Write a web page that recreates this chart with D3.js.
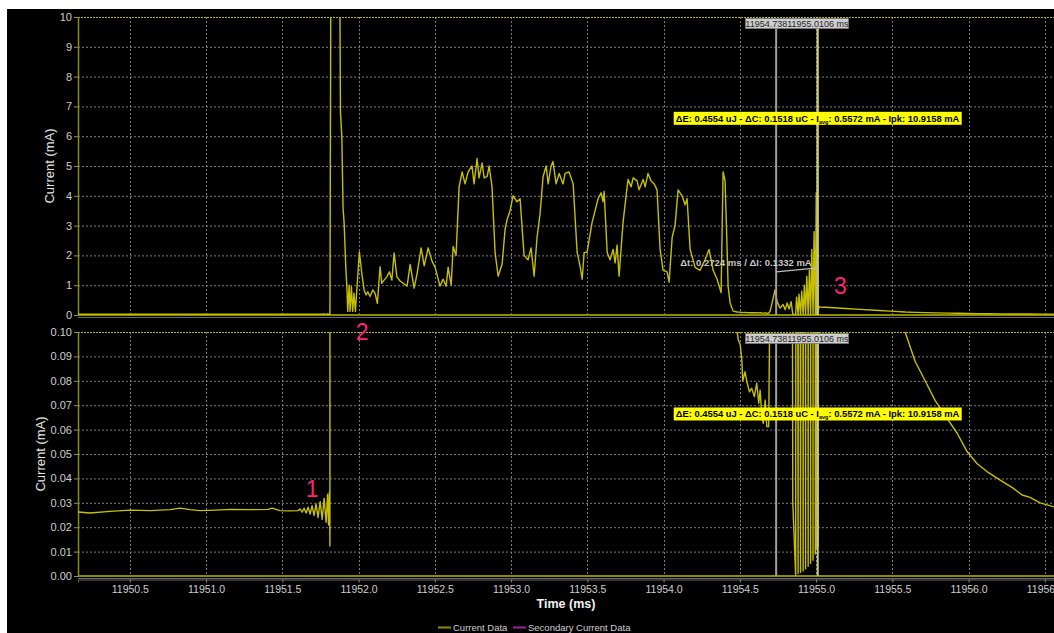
<!DOCTYPE html>
<html>
<head>
<meta charset="utf-8">
<script src="https://cdn.jsdelivr.net/npm/d3@7"></script>
<style>
  body { margin: 0; background: #fff; }
  svg { display: block; font-family: "Liberation Sans", Arial, sans-serif; }
</style>
</head>
<body>
<svg id="chart" width="1054" height="633"></svg>
<script>
// sampled trace, time in ms / current in mA
var times = [
  11950.16, 11950.239, 11950.370, 11950.502, 11950.633, 11950.764, 11950.830, 11950.895,
  11950.961, 11951.059, 11951.157, 11951.289, 11951.407, 11951.433, 11951.485, 11951.551,
  11951.603, 11951.616, 11951.630, 11951.643, 11951.656, 11951.669, 11951.682, 11951.695,
  11951.708, 11951.721, 11951.734, 11951.748, 11951.761, 11951.774, 11951.787, 11951.797,
  11951.803, 11951.809, 11951.812, 11951.818, 11951.846, 11951.877, 11951.881, 11951.890,
  11951.898, 11951.905, 11951.916, 11951.923, 11951.929, 11951.938, 11951.944, 11951.953,
  11951.961, 11951.970, 11951.979, 11952.005, 11952.021, 11952.036, 11952.049, 11952.060,
  11952.075, 11952.093, 11952.108, 11952.123, 11952.141, 11952.152, 11952.167, 11952.185,
  11952.202, 11952.218, 11952.233, 11952.251, 11952.272, 11952.318, 11952.338, 11952.364,
  11952.384, 11952.410, 11952.430, 11952.456, 11952.482, 11952.502, 11952.534, 11952.554,
  11952.574, 11952.587, 11952.607, 11952.620, 11952.639, 11952.659, 11952.679, 11952.698,
  11952.718, 11952.744, 11952.757, 11952.777, 11952.790, 11952.810, 11952.823, 11952.843,
  11952.856, 11952.875, 11952.895, 11952.915, 11952.941, 11952.961, 11952.974, 11952.993,
  11953.013, 11953.039, 11953.059, 11953.085, 11953.111, 11953.131, 11953.151, 11953.170,
  11953.190, 11953.210, 11953.230, 11953.243, 11953.262, 11953.275, 11953.295, 11953.315,
  11953.341, 11953.354, 11953.380, 11953.407, 11953.433, 11953.452, 11953.466, 11953.479,
  11953.498, 11953.531, 11953.551, 11953.570, 11953.590, 11953.603, 11953.610, 11953.630,
  11953.649, 11953.669, 11953.682, 11953.695, 11953.708, 11953.734, 11953.754, 11953.767,
  11953.787, 11953.800, 11953.826, 11953.839, 11953.866, 11953.879, 11953.898, 11953.918,
  11953.938, 11953.957, 11953.977, 11953.997, 11954.023, 11954.036, 11954.056, 11954.075,
  11954.095, 11954.121, 11954.141, 11954.154, 11954.174, 11954.207, 11954.239, 11954.272,
  11954.298, 11954.325, 11954.351, 11954.377, 11954.390, 11954.403, 11954.416, 11954.423,
  11954.436, 11954.456, 11954.482, 11954.490, 11954.502, 11954.513, 11954.519, 11954.534,
  11954.546, 11954.563, 11954.578, 11954.595, 11954.611, 11954.624, 11954.633, 11954.644,
  11954.654, 11954.666, 11954.677, 11954.689, 11954.698, 11954.711, 11954.731, 11954.744,
  11954.764, 11954.784, 11954.797, 11954.810, 11954.823, 11954.836, 11954.847, 11954.866,
  11954.872, 11954.882, 11954.888, 11954.898, 11954.906, 11954.915, 11954.923, 11954.931,
  11954.939, 11954.948, 11954.956, 11954.964, 11954.972, 11954.980, 11954.987, 11954.995,
  11955.001, 11955.005, 11955.009, 11955.013, 11955.017, 11955.026, 11955.092, 11955.190,
  11955.289, 11955.387, 11955.485, 11955.584, 11955.649, 11955.715, 11955.780, 11955.866,
  11955.925, 11955.990, 11956.056, 11956.121, 11956.207, 11956.292, 11956.351, 11956.403,
  11956.469, 11956.561
];
var current = [
  0.0262, 0.0258, 0.0265, 0.0270, 0.0268, 0.0272, 0.0278, 0.0272,
  0.0268, 0.0270, 0.0273, 0.0272, 0.0273, 0.0278, 0.0268, 0.0267,
  0.0268, 0.0275, 0.0262, 0.0278, 0.0258, 0.0282, 0.0254, 0.0288,
  0.0248, 0.0295, 0.0240, 0.0305, 0.0232, 0.0318, 0.0220, 0.0335,
  0.0210, 0.0346, 0.0123, 11.5, 12.0, 10.8, 6.8, 6.0,
  3.6, 3.1, 1.6, 0.95, 0.12, 1.0, 0.12, 0.95,
  0.12, 0.73, 0.12, 2.12, 1.4, 0.84, 0.67, 0.78,
  0.62, 0.84, 0.73, 0.39, 1.62, 1.06, 1.17, 1.28,
  1.45, 1.17, 2.08, 1.28, 1.14, 0.97, 1.7, 0.9,
  1.4, 2.25, 1.65, 2.25, 1.8, 1.6, 0.97, 1.2,
  0.97, 1.6, 1.0, 2.3, 2.0, 4.3, 4.8, 4.4,
  4.8, 5.0, 4.4, 5.25, 4.6, 5.1, 4.6, 4.65,
  5.0, 4.3, 2.1, 1.3, 1.7, 2.9, 3.2, 3.5,
  4.0, 3.8, 3.9, 2.0, 1.85, 2.25, 1.3, 2.6,
  3.4, 4.65, 5.0, 4.4, 5.0, 5.15, 4.4, 4.75,
  4.4, 4.75, 4.8, 4.4, 2.1, 1.65, 1.2, 2.1,
  2.1, 3.1, 3.5, 3.9, 4.1, 3.8, 4.15, 2.1,
  1.85, 2.2, 1.75, 2.35, 1.3, 3.1, 4.0, 4.55,
  4.3, 4.6, 4.5, 4.2, 4.55, 4.3, 4.75, 4.5,
  4.4, 4.2, 2.2, 1.5, 1.45, 1.1, 2.6, 3.0,
  4.2, 4.0, 3.7, 3.9, 2.2, 1.6, 1.5, 1.85,
  2.2, 1.5, 1.2, 0.75, 4.8, 4.5, 2.3, 0.97,
  0.4, 0.13, 0.1, 0.0967, 0.095, 0.0885, 0.080, 0.0837,
  0.0796, 0.0755, 0.0769, 0.0735, 0.079, 0.0708, 0.0762, 0.0653,
  0.0626, 0.0721, 0.0612, 0.0612, 0.12, 0.4, 0.84, 0.45,
  0.23, 0.35, 0.18, 0.4, 0.2, 0.45, 0.030, 0.0004,
  0.6, 0.001, 0.7, 0.0015, 0.8, 0.002, 1.0, 0.003,
  1.3, 0.004, 1.5, 0.0052, 2.2, 0.0065, 2.8, 0.009,
  4.1, 0.0113, 10.9, 0.012, 0.28, 0.27, 0.25, 0.22,
  0.19, 0.16, 0.13, 0.1, 0.088, 0.08, 0.072, 0.064,
  0.0585, 0.051, 0.046, 0.0428, 0.0393, 0.036, 0.0332, 0.0322,
  0.030, 0.0283
];

var xTicks = [11950.5, 11951.0, 11951.5, 11952.0, 11952.5, 11953.0, 11953.5,
              11954.0, 11954.5, 11955.0, 11955.5, 11956.0, 11956.5];
var topTicks = [0, 1, 2, 3, 4, 5, 6, 7, 8, 9, 10];
var bottomTicks = [0, 0.01, 0.02, 0.03, 0.04, 0.05, 0.06, 0.07, 0.08, 0.09, 0.10];

var cursors = [11954.738, 11955.0106];
var cursorText = '11954.73811955.0106 ms';
var deltaText = '\u0394t: 0.2724 ms / \u0394I: 0.1332 mA';
var markers = [
  { label: '1', t: 11951.695, panel: 1, v: 0.0324 },
  { label: '2', t: 11952.023, panel: 0, v: -0.84 },
  { label: '3', t: 11955.16, panel: 0, v: 0.7 }
];

var data = times.map(function(t, i) { return { t: t, v: current[i] }; });

var lineColor = '#c6c000',
    borderColor = '#8c8c00',
    gridColor = '#7c7c7c',
    textColor = '#cfcfcf',
    pink = '#ff2277';

var plotLeft = 78, plotRight = 1054;

var x = d3.scaleLinear().domain([11950.16, 11956.56]).range([plotLeft, plotRight]);

var panels = [
  { top: 17, bottom: 315, domain: [0, 10], ticks: topTicks, fmt: d3.format('d'),
    labelX: 49, boxV: 6.6 },
  { top: 332, bottom: 576, domain: [0, 0.1], ticks: bottomTicks, fmt: d3.format('.2f'),
    labelX: 40, boxV: 0.0664 }
];
panels.forEach(function(p) {
  p.y = d3.scaleLinear().domain(p.domain).range([p.bottom, p.top]);
});

var svg = d3.select('#chart');

// black panel
svg.append('rect').attr('x', 7).attr('y', 9).attr('width', 1047).attr('height', 624)
  .attr('fill', '#000');

var defs = svg.append('defs');

panels.forEach(function(p, i) {
  defs.append('clipPath').attr('id', 'clip' + i).append('rect')
    .attr('x', plotLeft).attr('y', p.top)
    .attr('width', plotRight - plotLeft).attr('height', p.bottom - p.top);

  var g = svg.append('g');

  // grid
  g.selectAll('.hgrid').data(p.ticks.slice(1, -1)).enter().append('line')
    .attr('x1', plotLeft).attr('x2', plotRight)
    .attr('y1', function(d) { return p.y(d) + 0.5; })
    .attr('y2', function(d) { return p.y(d) + 0.5; })
    .attr('stroke', gridColor).attr('stroke-dasharray', '2,2');
  g.selectAll('.vgrid').data(xTicks).enter().append('line')
    .attr('x1', function(d) { return Math.round(x(d)) + 0.5; })
    .attr('x2', function(d) { return Math.round(x(d)) + 0.5; })
    .attr('y1', p.top).attr('y2', p.bottom)
    .attr('stroke', gridColor).attr('stroke-dasharray', '2,2');

  // y axis
  var ax = g.append('g').attr('transform', 'translate(' + plotLeft + ',0)')
    .call(d3.axisLeft(p.y).tickValues(p.ticks).tickFormat(p.fmt).tickSize(4).tickPadding(2));
  ax.select('.domain').remove();
  ax.selectAll('line').attr('stroke', '#8a8a8a');
  ax.selectAll('text').attr('fill', textColor).style('font-size', '11px');

  g.append('text')
    .attr('transform', 'translate(' + p.labelX + ',' + (p.top + p.bottom) / 2 + ') rotate(-90)')
    .attr('text-anchor', 'middle').attr('dy', '0.35em')
    .attr('fill', '#e6e6e6').style('font-size', '13px')
    .text('Current (mA)');

  // frame
  g.append('line').attr('x1', plotLeft).attr('x2', plotRight)
    .attr('y1', p.top + 0.5).attr('y2', p.top + 0.5)
    .attr('stroke', '#b4b400').attr('stroke-dasharray', '2,1');
  g.append('line').attr('x1', plotLeft).attr('x2', plotRight)
    .attr('y1', p.bottom + 2.5).attr('y2', p.bottom + 2.5)
    .attr('stroke', '#6a6a6a');
  g.append('line').attr('x1', plotLeft).attr('x2', plotRight)
    .attr('y1', p.bottom).attr('y2', p.bottom)
    .attr('stroke', borderColor).attr('stroke-width', 2);
  g.append('line').attr('x1', plotLeft + 0.5).attr('x2', plotLeft + 0.5)
    .attr('y1', p.top).attr('y2', p.bottom)
    .attr('stroke', borderColor).attr('stroke-width', 1.5);

  // trace
  g.append('path').datum(data)
    .attr('clip-path', 'url(#clip' + i + ')')
    .attr('fill', 'none').attr('stroke', lineColor).attr('stroke-width', 1.4)
    .attr('stroke-linejoin', 'round')
    .attr('d', d3.line().x(function(d) { return x(d.t); }).y(function(d) { return p.y(d.v); }));

  // cursors
  g.selectAll('.cursor').data(cursors).enter().append('line')
    .attr('x1', function(d) { return x(d); }).attr('x2', function(d) { return x(d); })
    .attr('y1', p.top + 11).attr('y2', p.bottom)
    .attr('stroke', function(d, j) { return j ? '#c8c896' : '#a0a0a0'; })
    .attr('stroke-width', 2);

  var mid = (x(cursors[0]) + x(cursors[1])) / 2;
  g.append('rect').attr('x', mid - 51.5).attr('y', p.top + 1.5)
    .attr('width', 103).attr('height', 10)
    .attr('fill', '#cdcdcd').attr('stroke', '#7a7a7a').attr('stroke-width', 0.8);
  g.append('text').attr('x', mid).attr('y', p.top + 9.8)
    .attr('text-anchor', 'middle').attr('fill', '#262626')
    .style('font-size', '9px').text(cursorText);

  // yellow measurement box
  var bx = x(cursors[1]), by = p.y(p.boxV);
  g.append('rect').attr('x', bx - 144).attr('y', by - 6.5)
    .attr('width', 288).attr('height', 13).attr('fill', '#ffff00');
  var t = g.append('text').attr('x', bx - 142).attr('y', by + 3.3)
    .attr('fill', '#000').style('font-size', '9.4px').style('font-weight', 'bold');
  t.append('tspan').text('\u0394E: 0.4554 uJ - \u0394C: 0.1518 uC - I');
  t.append('tspan').attr('dy', 2).style('font-size', '5.5px').text('avg');
  t.append('tspan').attr('dy', -2).text(': 0.5572 mA - Ipk: 10.9158 mA');
});

// delta line and label in top panel
var yT = panels[0].y;
svg.append('line')
  .attr('x1', x(cursors[0])).attr('y1', yT(1.45))
  .attr('x2', x(cursors[1])).attr('y2', yT(1.58))
  .attr('stroke', '#bdbdbd').attr('stroke-width', 1.2);
svg.append('text').attr('x', x(cursors[1]) - 6).attr('y', yT(1.66))
  .attr('text-anchor', 'end').attr('fill', '#c8c8c8')
  .style('font-size', '9.5px').style('font-weight', 'bold')
  .text(deltaText);

// numbered markers
markers.forEach(function(m) {
  svg.append('text').attr('x', x(m.t)).attr('y', panels[m.panel].y(m.v))
    .attr('text-anchor', 'middle').attr('fill', pink)
    .style('font-size', '23px').text(m.label);
});

// time axis
var xa = svg.append('g').attr('transform', 'translate(0,579.5)')
  .call(d3.axisBottom(x).tickValues(xTicks).tickFormat(d3.format('.1f')).tickSize(3).tickPadding(3));
xa.select('.domain').attr('stroke', '#6a6a6a');
xa.selectAll('line').attr('stroke', '#8a8a8a');
xa.selectAll('text').attr('fill', textColor).style('font-size', '10.5px');

svg.append('text').attr('x', (plotLeft + plotRight) / 2).attr('y', 608)
  .attr('text-anchor', 'middle').attr('fill', '#f2f2f2')
  .style('font-size', '12.5px').style('font-weight', 'bold')
  .text('Time (ms)');

// legend
var legend = [
  { name: 'Current Data', color: '#8c8c00', x: 438 },
  { name: 'Secondary Current Data', color: '#a020a0', x: 513 }
];
legend.forEach(function(l) {
  svg.append('line').attr('x1', l.x).attr('x2', l.x + 13)
    .attr('y1', 627.5).attr('y2', 627.5)
    .attr('stroke', l.color).attr('stroke-width', 2);
  svg.append('text').attr('x', l.x + 15).attr('y', 631)
    .attr('fill', textColor).style('font-size', '9.5px').text(l.name);
});
</script>
</body>
</html>
